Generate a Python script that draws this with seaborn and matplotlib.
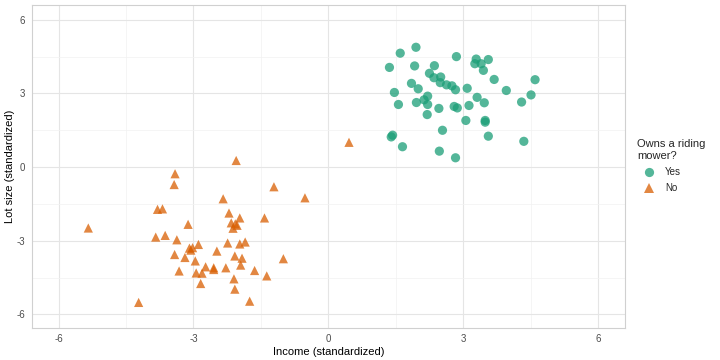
import matplotlib
matplotlib.use("Agg")

import matplotlib.pyplot as plt
import pandas as pd
import seaborn as sns

# standardized income / lot size
yes_income = [1.95, 1.60, 1.36, 1.92, 2.36, 2.85, 3.29, 3.26, 3.40, 3.56,
              3.45, 2.25, 2.35, 2.50, 1.85, 2.00, 2.49, 2.63, 2.75, 2.83,
              3.09, 3.69, 4.60, 3.96, 4.51, 1.47, 1.56, 1.96, 2.13, 2.21,
              2.21, 2.46, 2.80, 2.87, 3.13, 3.31, 3.47, 4.30, 2.20, 3.06,
              3.49, 3.49, 2.54, 1.43, 1.40, 1.65, 3.56, 4.35, 2.47, 2.83]
yes_lot = [4.88, 4.64, 4.06, 4.12, 4.13, 4.50, 4.40, 4.21, 4.21, 4.38,
           3.94, 3.82, 3.64, 3.67, 3.41, 3.19, 3.44, 3.35, 3.31, 3.15,
           3.21, 3.57, 3.56, 3.12, 2.94, 3.04, 2.55, 2.63, 2.74, 2.89,
           2.55, 2.39, 2.47, 2.41, 2.51, 2.84, 2.62, 2.65, 2.14, 1.90,
           1.90, 1.83, 1.50, 1.30, 1.23, 0.83, 1.26, 1.05, 0.65, 0.38]

no_income = [-2.05, -3.41, -3.43, -1.21, -2.34, -0.52, 0.46, -3.80, -3.69, -2.21,
             -1.97, -1.42, -5.34, -3.12, -2.16, -2.03, -2.12, -3.84, -3.63, -3.37,
             -2.89, -2.24, -1.97, -1.85, -3.09, -3.06, -2.48, -3.42, -3.19, -2.08,
             -1.92, -1.00, -2.96, -2.73, -2.55, -2.55, -2.28, -1.95, -3.32, -2.94,
             -2.81, -1.64, -1.37, -2.10, -2.84, -2.08, -1.75, -4.22, -3.02, -2.07]
no_lot = [0.27, -0.27, -0.71, -0.80, -1.29, -1.25, 1.01, -1.72, -1.70, -1.87,
          -2.07, -2.07, -2.48, -2.33, -2.27, -2.37, -2.49, -2.85, -2.78, -2.96,
          -3.15, -3.09, -3.13, -3.05, -3.30, -3.38, -3.42, -3.56, -3.68, -3.62,
          -3.71, -3.73, -3.82, -4.06, -4.10, -4.17, -4.10, -3.99, -4.23, -4.31,
          -4.32, -4.21, -4.43, -4.55, -4.74, -4.97, -5.46, -5.51, -3.28, -2.31]

ticks = [-6, -3, 0, 3, 6]
minor_ticks = [-4.5, -1.5, 1.5, 4.5]

df = pd.DataFrame({
    "income": yes_income + no_income,
    "lot": yes_lot + no_lot,
    "owner": ["Yes"] * len(yes_income) + ["No"] * len(no_income),
})

sns.set_style("white")
plt.rcParams["font.family"] = ["Liberation Sans", "DejaVu Sans"]
plt.rcParams["axes.unicode_minus"] = False

fig = plt.figure(figsize=(7.2, 3.6), dpi=100)
ax = fig.add_axes([0.044, 0.089, 0.824, 0.897])

palette = {"Yes": "#1b9e77", "No": "#d95f02"}
sns.scatterplot(data=df, x="income", y="lot", hue="owner", style="owner",
                hue_order=["Yes", "No"], style_order=["Yes", "No"],
                markers={"Yes": "o", "No": "^"}, palette=palette,
                s=44, alpha=0.75, linewidth=0, ax=ax, zorder=3)

ax.set_xlim(-6.6, 6.6)
ax.set_ylim(-6.55, 6.6)
ax.set_xticks(ticks)
ax.set_yticks(ticks)
ax.set_xticks(minor_ticks, minor=True)
ax.set_yticks(minor_ticks, minor=True)
ax.grid(True, which="major", color="#e5e5e5", linewidth=0.8, zorder=0)
ax.grid(True, which="minor", color="#f2f2f2", linewidth=0.5, zorder=0)
ax.set_axisbelow(True)
ax.tick_params(which="major", length=2.5, width=0.6, color="#c8c8c8",
               labelsize=7, labelcolor="#4d4d4d", pad=2)
ax.tick_params(which="minor", length=0)
for sp in ax.spines.values():
    sp.set_color("#d0d0d0")
    sp.set_linewidth(0.8)

ax.set_xlabel("Income (standardized)", fontsize=8, color="black", labelpad=2)
ax.set_ylabel("Lot size (standardized)", fontsize=8, color="black", labelpad=1)

handles, labels = ax.get_legend_handles_labels()
ax.legend(handles, labels, title="Owns a riding\nmower?", loc="upper left",
          bbox_to_anchor=(1.02, 0.585), frameon=False, fontsize=7,
          title_fontsize=8, alignment="left", handlelength=2.6,
          handletextpad=0.3, labelspacing=0.65, borderaxespad=0, borderpad=0)

fig.savefig("out.png", dpi=100)
plt.close(fig)
